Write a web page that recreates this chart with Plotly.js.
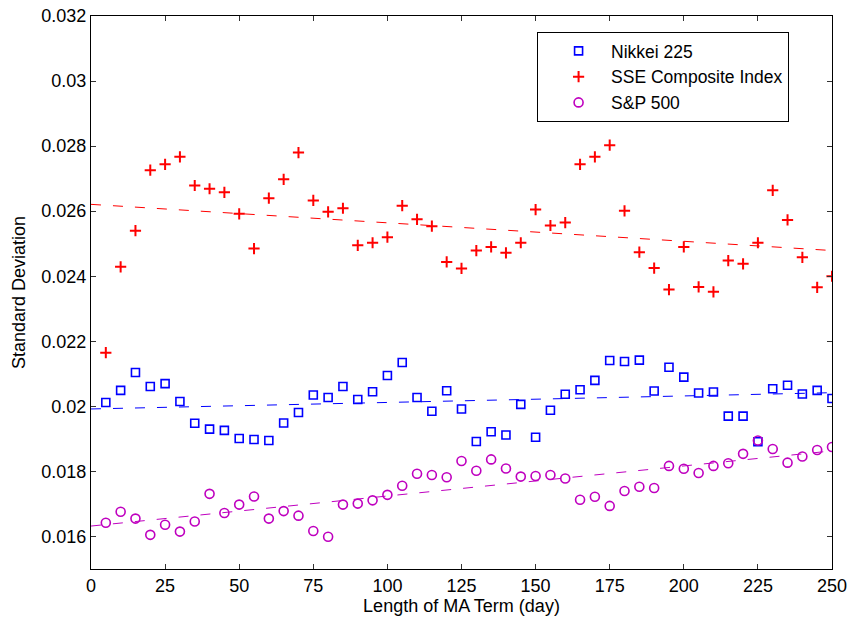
<!DOCTYPE html>
<html>
<head>
<meta charset="utf-8">
<script src="https://cdn.plot.ly/plotly-3.0.1.min.js"></script>
<style>
  html, body { margin: 0; padding: 0; background: #ffffff; }
  #chart { width: 848px; height: 623px; }
</style>
</head>
<body>
<div id="chart"></div>
<script>
// MA term lengths (days)
const maTerms = [5, 10, 15, 20, 25, 30, 35, 40, 45, 50,
                 55, 60, 65, 70, 75, 80, 85, 90, 95, 100,
                 105, 110, 115, 120, 125, 130, 135, 140, 145, 150,
                 155, 160, 165, 170, 175, 180, 185, 190, 195, 200,
                 205, 210, 215, 220, 225, 230, 235, 240, 245, 250];

const seriesNames = ["Nikkei 225", "SSE Composite Index", "S&P 500"];

const nikkei = [0.02012, 0.02049, 0.02104, 0.02061, 0.02070, 0.02015, 0.01948, 0.01930, 0.01926, 0.01901,
                0.01898, 0.01895, 0.01949, 0.01981, 0.02035, 0.02027, 0.02061, 0.02021, 0.02045, 0.02095,
                0.02135, 0.02027, 0.01985, 0.02048, 0.01992, 0.01892, 0.01922, 0.01912, 0.02006, 0.01905,
                0.01988, 0.02037, 0.02051, 0.02080, 0.02141, 0.02138, 0.02142, 0.02047, 0.02120, 0.02090,
                0.02041, 0.02044, 0.01970, 0.01970, 0.01891, 0.02054, 0.02065, 0.02038, 0.02049, 0.02024];

const sse = [0.02165, 0.02429, 0.02540, 0.02726, 0.02744, 0.02767, 0.02679, 0.02669, 0.02658, 0.02592,
             0.02485, 0.02640, 0.02698, 0.02780, 0.02633, 0.02598, 0.02609, 0.02495, 0.02503, 0.02520,
             0.02617, 0.02575, 0.02554, 0.02444, 0.02424, 0.02479, 0.02490, 0.02472, 0.02503, 0.02605,
             0.02556, 0.02565, 0.02744, 0.02767, 0.02803, 0.02601, 0.02474, 0.02425, 0.02359, 0.02490,
             0.02367, 0.02352, 0.02448, 0.02438, 0.02503, 0.02664, 0.02573, 0.02458, 0.02366, 0.02400];

const sp500 = [0.01642, 0.01676, 0.01655, 0.01605, 0.01636, 0.01615, 0.01646, 0.01731, 0.01672, 0.01698,
               0.01723, 0.01655, 0.01678, 0.01664, 0.01617, 0.01599, 0.01698, 0.01701, 0.01711, 0.01728,
               0.01756, 0.01793, 0.01789, 0.01782, 0.01832, 0.01802, 0.01837, 0.01809, 0.01784, 0.01786,
               0.01789, 0.01778, 0.01713, 0.01722, 0.01694, 0.01740, 0.01753, 0.01749, 0.01817, 0.01808,
               0.01795, 0.01817, 0.01825, 0.01854, 0.01895, 0.01869, 0.01827, 0.01846, 0.01866, 0.01875];

// Linear trend lines (end points)
const trendX = [0, 250];
const nikkeiTrend = [0.01992, 0.02042];
const sseTrend = [0.02621, 0.02479];
const spTrend = [0.01632, 0.01863];

// Axis ticks
const xTickVals = [0, 25, 50, 75, 100, 125, 150, 175, 200, 225, 250];
const yTickVals = [0.016, 0.018, 0.02, 0.022, 0.024, 0.026, 0.028, 0.03, 0.032];
const yTickText = ["0.016", "0.018", "0.02", "0.022", "0.024", "0.026", "0.028", "0.03", "0.032"];

const blue = "#0000ff";
const red = "#ff0000";
const magenta = "#bf00bf";
const fontFamily = "Liberation Sans, Arial, sans-serif";
const fs = 18;

const traces = [
  {
    x: maTerms, y: nikkei, name: seriesNames[0], type: "scatter", mode: "markers",
    marker: { symbol: "square-open", size: 8, color: blue, line: { width: 1.6, color: blue } }
  },
  {
    x: maTerms, y: sse, name: seriesNames[1], type: "scatter", mode: "markers",
    marker: { symbol: "cross-thin-open", size: 8, color: red, line: { width: 2, color: red } }
  },
  {
    x: maTerms, y: sp500, name: seriesNames[2], type: "scatter", mode: "markers",
    marker: { symbol: "circle-open", size: 9, color: magenta, line: { width: 1.6, color: magenta } }
  },
  {
    x: trendX, y: nikkeiTrend, type: "scatter", mode: "lines", showlegend: false, hoverinfo: "skip",
    line: { color: blue, width: 1, dash: "10px,12px" }
  },
  {
    x: trendX, y: sseTrend, type: "scatter", mode: "lines", showlegend: false, hoverinfo: "skip",
    line: { color: red, width: 1, dash: "10px,12px" }
  },
  {
    x: trendX, y: spTrend, type: "scatter", mode: "lines", showlegend: false, hoverinfo: "skip",
    line: { color: magenta, width: 1, dash: "10px,12px" }
  }
];

const axisCommon = {
  showline: true, linecolor: "#000000", linewidth: 1.2, mirror: "ticks",
  ticks: "inside", ticklen: 5, tickwidth: 1, tickcolor: "#333333",
  showgrid: false, zeroline: false,
  tickfont: { family: fontFamily, size: fs, color: "#000000" }
};

const layout = {
  width: 848, height: 623,
  paper_bgcolor: "#ffffff", plot_bgcolor: "#ffffff",
  margin: { l: 91, r: 16, t: 16, b: 54 },
  font: { family: fontFamily, size: fs, color: "#000000" },
  xaxis: Object.assign({}, axisCommon, {
    range: [0, 250], tickvals: xTickVals,
    title: { text: "Length of MA Term (day)", font: { family: fontFamily, size: fs }, standoff: 2 }
  }),
  yaxis: Object.assign({}, axisCommon, {
    range: [0.015, 0.032], tickvals: yTickVals, ticktext: yTickText,
    title: { text: "Standard Deviation", font: { family: fontFamily, size: fs }, standoff: 10 }
  }),
  showlegend: true,
  legend: {
    x: 0.602, y: 0.971, xanchor: "left", yanchor: "top",
    bgcolor: "#ffffff", bordercolor: "#000000", borderwidth: 1,
    font: { family: fontFamily, size: 17.5, color: "#000000" },
    indentation: 8, itemwidth: 55, tracegroupgap: 0
  }
};

Plotly.newPlot("chart", traces, layout, { displayModeBar: false, staticPlot: true });
</script>
</body>
</html>
